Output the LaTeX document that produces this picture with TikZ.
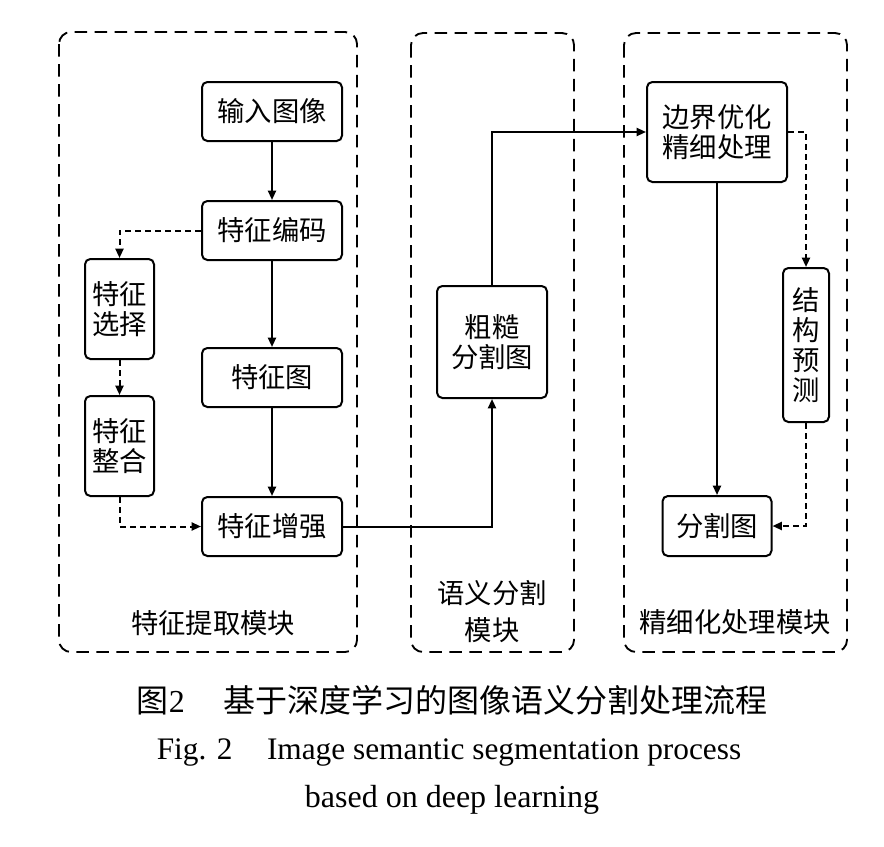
\documentclass[tikz,border=0pt]{standalone}
\usepackage{fontspec}
\setmainfont{Liberation Serif}
\newfontfamily\cjk{Noto Sans CJK SC}
\usetikzlibrary{arrows.meta}
\begin{document}
\begin{tikzpicture}[x=0.75pt,y=-0.75pt,
  box/.style={draw,line width=1.5pt,rounded corners=4pt,align=center,inner sep=0pt,
    font=\cjk\fontsize{20.5}{22.5}\selectfont},
  wbox/.style={box,minimum width=105pt,minimum height=44.25pt},
  tbox/.style={box,minimum width=51.75pt,minimum height=75pt},
  module/.style={draw,line width=1.4pt,dash pattern=on 9.5pt off 5.5pt,rounded corners=9pt},
  lbl/.style={align=center,inner sep=0pt,font=\cjk\fontsize{20.5}{28}\selectfont},
  arr/.style={line width=1.5pt,-{Triangle[length=7pt,width=6pt]}},
  darr/.style={line width=1.5pt,dash pattern=on 4.5pt off 3pt,-{Triangle[length=7pt,width=6pt]}}
]
\useasboundingbox (0,0) rectangle (884,846);
% module frames
\draw[module] (59,32) rectangle (357,652);
\draw[module] (411,33) rectangle (574,652);
\draw[module] (624,33) rectangle (847,652);
% nodes
\node[wbox] (in) at (272,111.5) {输入图像};
\node[wbox] (enc) at (272,230.5) {特征编码};
\node[tbox] (sel) at (119.5,309) {特征\\选择};
\node[wbox] (fmap) at (272,377.5) {特征图};
\node[tbox] (integ) at (119.5,446) {特征\\整合};
\node[wbox] (enh) at (272,526.5) {特征增强};
\node[box,minimum width=82.5pt,minimum height=84pt] (coarse) at (492,342) {粗糙\\分割图};
\node[box,minimum width=105pt,minimum height=75pt] (bnd) at (717,132) {边界优化\\精细处理};
\node[box,minimum width=34.5pt,minimum height=115.5pt] (struct) at (806,345) {结\\构\\预\\测};
\node[box,minimum width=81.75pt,minimum height=45pt] (seg) at (717,526) {分割图};
% module labels
\node[lbl] (l1) at (213,623) {特征提取模块};
\node[lbl] (l2) at (492,611.5) {语义分割\\模块};
\node[lbl] (l3) at (735,622) {精细化处理模块};
% connectors
\draw[arr] (in) -- (enc);
\draw[arr] (enc) -- (fmap);
\draw[arr] (fmap) -- (enh);
\draw[darr] (enc.west) -| (sel.north);
\draw[darr] (sel) -- (integ);
\draw[darr] (integ.south) |- (enh.west);
\draw[arr] (enh.east) -| (coarse.south);
\draw[arr] (coarse.north) |- (bnd.west);
\draw[darr] (bnd.east) -| (struct.north);
\draw[arr] (bnd.south) -- (seg.north);
\draw[darr] (struct.south) |- (seg.east);
% caption
\node[inner sep=0pt,font=\fontsize{24}{28}\selectfont] (cap1) at (452,700) {{\cjk 图}2\hspace{1.2em}{\cjk 基于深度学习的图像语义分割处理流程}};
\node[inner sep=0pt,font=\fontsize{23.5}{28}\selectfont] (cap2) at (449,752) {Fig. 2\hspace{1.1em}Image semantic segmentation process};
\node[inner sep=0pt,font=\fontsize{24}{28}\selectfont] (cap3) at (452,800) {based on deep learning};
\end{tikzpicture}
\end{document}
